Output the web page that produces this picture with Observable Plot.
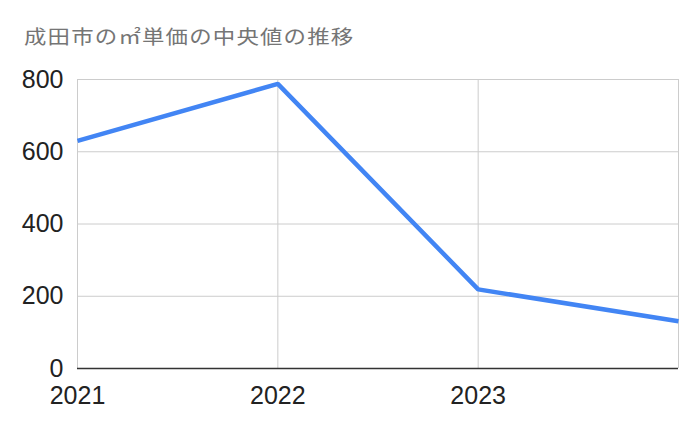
<!DOCTYPE html>
<html>
<head>
<meta charset="utf-8">
<script src="https://cdn.jsdelivr.net/npm/d3@7"></script>
<script src="https://cdn.jsdelivr.net/npm/@observablehq/plot@0.6"></script>
<style>
  body { margin: 0; background: #fff; width: 700px; height: 433px; overflow: hidden; }
  #titlebox { height: 60px; box-sizing: border-box; padding: 24px 0 0 24px; }
  #title { display: inline-block; font-family: "Noto Sans CJK JP", sans-serif; font-size: 19px; letter-spacing: 1px; color: #757575; line-height: 24px; white-space: nowrap; transform: scaleX(1.18); transform-origin: left center; }
</style>
</head>
<body>
<div id="titlebox"><span id="title">成田市の㎡単価の中央値の推移</span></div>
<div id="chart"></div>
<script>
const years = [2021, 2022, 2023, 2024];
const values = [630, 788, 219, 131];
const xTickLabels = [2021, 2022, 2023];
const yTicks = [0, 200, 400, 600, 800];

const data = years.map((y, i) => ({year: y, value: values[i]}));

const chart = Plot.plot({
  width: 700,
  height: 373,
  marginTop: 19,
  marginBottom: 65,
  marginLeft: 77,
  marginRight: 22,
  style: {fontFamily: "'Liberation Sans', Arial, sans-serif", fontSize: "25px", color: "#222", background: "#fff"},
  x: {domain: [2021, 2024]},
  y: {domain: [0, 800]},
  marks: [
    Plot.gridY(yTicks, {stroke: "#cccccc", strokeOpacity: 1, strokeWidth: 1}),
    Plot.gridX(years, {stroke: "#cccccc", strokeOpacity: 1, strokeWidth: 1}),
    Plot.axisY(yTicks, {tickSize: 0, tickPadding: 14, label: null, fill: "#222", fontSize: 25}),
    Plot.axisX(xTickLabels, {tickSize: 0, tickPadding: 18, label: null, tickFormat: d => String(d), fill: "#222", fontSize: 25}),
    Plot.ruleY([0], {stroke: "#333333", strokeWidth: 1.5}),
    Plot.line(data, {x: "year", y: "value", stroke: "#4285F4", strokeWidth: 4.5, strokeLinejoin: "miter", strokeLinecap: "butt"})
  ]
});
document.getElementById("chart").appendChild(chart);
</script>
</body>
</html>
